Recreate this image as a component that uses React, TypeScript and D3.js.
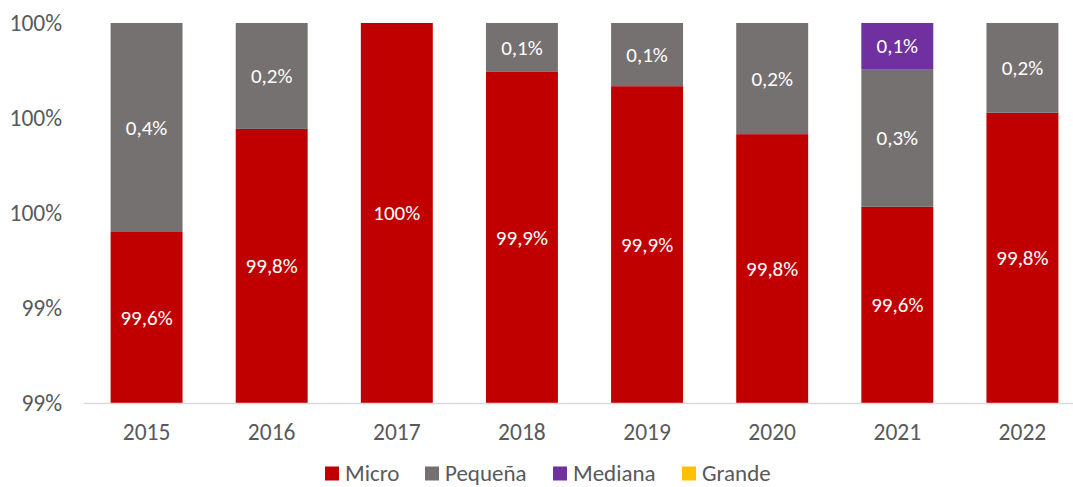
import React, { useEffect } from "react";
import * as d3 from "d3";

const years = ["2015", "2016", "2017", "2018", "2019", "2020", "2021", "2022"];
const micro = [99.56, 99.777, 100, 99.897, 99.867, 99.766, 99.613, 99.811];
const pequena = [0.44, 0.223, 0, 0.103, 0.133, 0.234, 0.29, 0.189];
const mediana = [0, 0, 0, 0, 0, 0, 0.097, 0];
const grande = [0, 0, 0, 0, 0, 0, 0, 0];
const microLabels = ["99,6%", "99,8%", "100%", "99,9%", "99,9%", "99,8%", "99,6%", "99,8%"];
const pequenaLabels = ["0,4%", "0,2%", "", "0,1%", "0,1%", "0,2%", "0,3%", "0,2%"];
const medianaLabels = ["", "", "", "", "", "", "0,1%", ""];
const yTicks = [99.2, 99.4, 99.6, 99.8, 100];
const seriesNames = ["Micro", "Pequeña", "Mediana", "Grande"];
const colors = ["#C00000", "#767171", "#7030A0", "#FFC000"];

const W = 1073, H = 487;
const FONT = "Carlito, Calibri, 'Open Sans', 'Liberation Sans', sans-serif";

export default function App() {
  useEffect(() => {
    document.body.style.margin = "0";
  }, []);
  const x = d3.scaleBand().domain(years).range([84, 1085]).paddingInner(0.425).paddingOuter(0.2125);
  const y = d3.scaleLinear().domain([99.2, 100]).range([403, 23]);
  const series = [micro, pequena, mediana, grande];
  const labels = [microLabels, pequenaLabels, medianaLabels, []];
  const rects: any[] = [];
  const texts: any[] = [];
  years.forEach((yr, i) => {
    const base = y.domain()[0];
    let cum = 0;
    series.forEach((s, k) => {
      const v = s[i];
      const lo = k === 0 ? base : cum;
      const hi = k === 0 ? v : cum + v;
      if (k === 0) cum = v; else cum = cum + v;
      if (v <= 0) return;
      const yTop = y(Math.min(hi, 100));
      const yBot = y(Math.max(lo, 99.2));
      rects.push(<rect key={`r${k}-${i}`} x={x(yr)} y={yTop} width={x.bandwidth()} height={yBot - yTop} fill={colors[k]} />);
      const lab = (labels[k] as string[])[i];
      if (lab) {
        texts.push(
          <text key={`t${k}-${i}`} x={(x(yr) as number) + x.bandwidth() / 2} y={(yTop + yBot) / 2} dy="0.35em" textAnchor="middle" fill="#fff" fontSize={21}>{lab}</text>
        );
      }
    });
  });
  const legendX = [325, 425, 553, 682];
  return (
    <svg width={W} height={H} style={{ display: "block", fontFamily: FONT }}>
      {yTicks.map((t) => (
        <text key={t} x={62} y={y(t)} dy="0.33em" textAnchor="end" fill="#595959" fontSize={23.5}>{d3.format(".0f")(t) + "%"}</text>
      ))}
      {rects}
      <line x1={84} x2={W} y1={403.5} y2={403.5} stroke="#D9D9D9" strokeWidth={1.5} />
      {years.map((yr) => (
        <text key={yr} x={(x(yr) as number) + x.bandwidth() / 2} y={432.5} dy="0.33em" textAnchor="middle" fill="#595959" fontSize={23.5}>{yr}</text>
      ))}
      {texts}
      {seriesNames.map((n, k) => (
        <g key={n}>
          <rect x={legendX[k]} y={466.5} width={14} height={14} fill={colors[k]} />
          <text x={legendX[k] + 20} y={480.5} fill="#595959" fontSize={23}>{n}</text>
        </g>
      ))}
    </svg>
  );
}
